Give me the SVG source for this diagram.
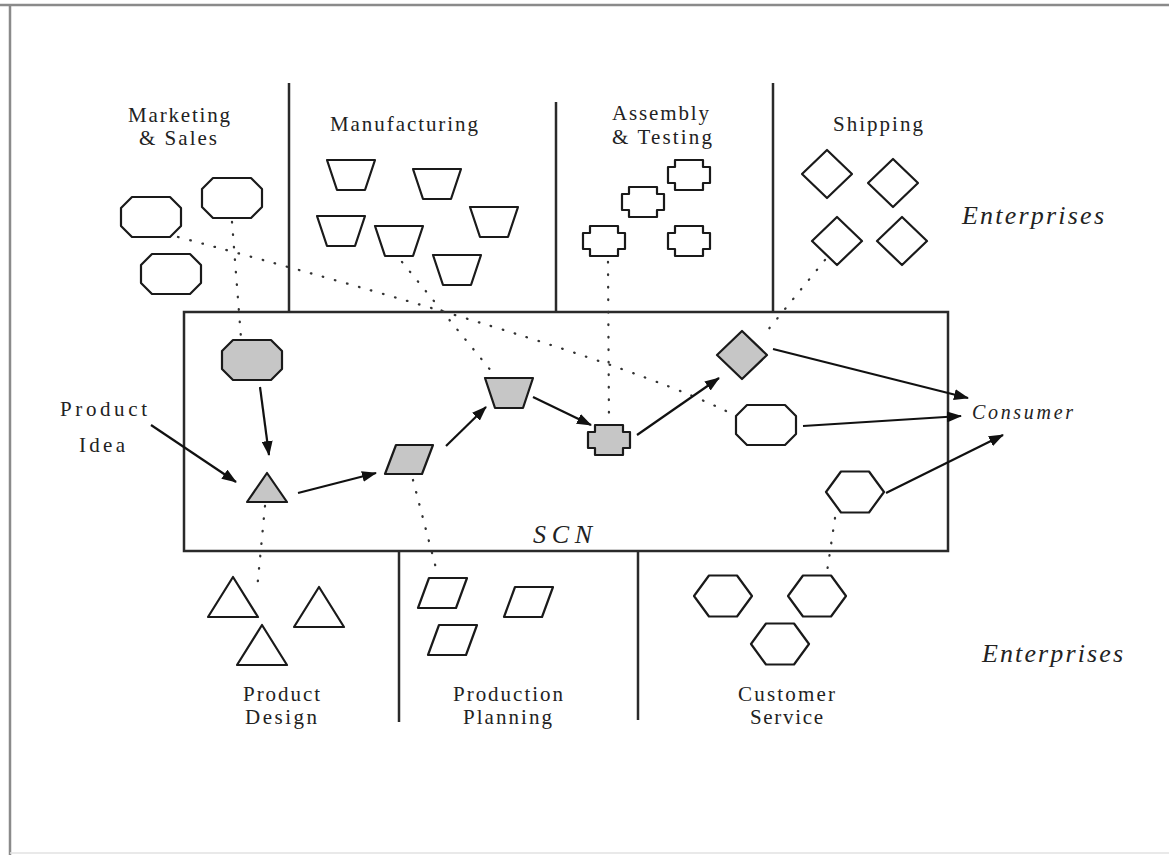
<svg xmlns="http://www.w3.org/2000/svg" width="1169" height="855" viewBox="0 0 1169 855">
<defs>
<style>
.sh{fill:#fff;stroke:#1a1a1a;stroke-width:2.2;stroke-linejoin:round}
.g{fill:#c6c6c6}
.div{stroke:#2a2a2a;stroke-width:2.5;fill:none}
.dot{stroke:#333;stroke-width:2.3;stroke-dasharray:0.5 12;stroke-linecap:round;fill:none}
.arr{stroke:#111;stroke-width:2.2;fill:none;marker-end:url(#ah)}
.t{font-family:"Liberation Serif","Times New Roman",serif;font-size:21px;fill:#222}
.it{font-family:"Liberation Serif","Times New Roman",serif;font-style:italic;fill:#222}
</style>
<marker id="ah" markerUnits="userSpaceOnUse" markerWidth="15" markerHeight="11" refX="14" refY="5.5" orient="auto">
<path d="M0,0 L15,5.5 L0,11 z" fill="#111"/>
</marker>
<polygon id="oct" points="-19,-20 19,-20 30,-9 30,9 19,20 -19,20 -30,9 -30,-9"/>
<polygon id="hex" points="-14,-20.5 14,-20.5 29,0 14,20.5 -14,20.5 -29,0"/>
<polygon id="dia" points="0,-24 25,0 0,24 -25,0"/>
<polygon id="crs" points="-14,-15 14,-15 14,-8 21,-8 21,8 14,8 14,15 -14,15 -14,8 -21,8 -21,-8 -14,-8"/>
<polygon id="trap" points="-24,-15 24,-15 14,15 -14,15"/>
<polygon id="tri" points="0,-20 25,20 -25,20"/>
<polygon id="par" points="-8,-15 30,-15 19,15 -19,15"/>
</defs>
<rect x="0" y="0" width="1169" height="855" fill="#fff"/>
<g id="frame">
<line x1="0" y1="5" x2="1169" y2="5" stroke="#8a8a8a" stroke-width="2.5"/>
<line x1="10" y1="5" x2="10" y2="855" stroke="#8a8a8a" stroke-width="2.5"/>
<line x1="10" y1="853" x2="1169" y2="853" stroke="#e2e2e2" stroke-width="1.5"/>
</g>
<g id="scn-box">
<rect x="184" y="312" width="764" height="239" fill="none" stroke="#2a2a2a" stroke-width="2.5"/>
<text class="it" x="533" y="543" font-size="26" textLength="59" lengthAdjust="spacing">SCN</text>
</g>
<g id="dividers">
<line class="div" x1="289" y1="83" x2="289" y2="312"/>
<line class="div" x1="556" y1="102" x2="556" y2="312"/>
<line class="div" x1="773" y1="83" x2="773" y2="312"/>
<line class="div" x1="399" y1="551" x2="399" y2="722"/>
<line class="div" x1="638" y1="551" x2="638" y2="720"/>
</g>
<g id="labels">
<text class="t" x="128" y="122" textLength="102" lengthAdjust="spacing">Marketing</text>
<text class="t" x="139" y="145" textLength="78" lengthAdjust="spacing">&amp; Sales</text>
<text class="t" x="330" y="131" textLength="148" lengthAdjust="spacing">Manufacturing</text>
<text class="t" x="612" y="120" textLength="97" lengthAdjust="spacing">Assembly</text>
<text class="t" x="612" y="144" textLength="100" lengthAdjust="spacing">&amp; Testing</text>
<text class="t" x="833" y="131" textLength="90" lengthAdjust="spacing">Shipping</text>
<text class="t" x="60" y="416" font-size="23" textLength="87" lengthAdjust="spacing">Product</text>
<text class="t" x="79" y="452" font-size="23" textLength="46" lengthAdjust="spacing">Idea</text>
<text class="t" x="243" y="701" textLength="77" lengthAdjust="spacing">Product</text>
<text class="t" x="245" y="724" textLength="72" lengthAdjust="spacing">Design</text>
<text class="t" x="453" y="701" textLength="110" lengthAdjust="spacing">Production</text>
<text class="t" x="463" y="724" textLength="89" lengthAdjust="spacing">Planning</text>
<text class="t" x="738" y="701" textLength="97" lengthAdjust="spacing">Customer</text>
<text class="t" x="750" y="724" textLength="73" lengthAdjust="spacing">Service</text>
<text class="it" x="962" y="224" font-size="26" textLength="142" lengthAdjust="spacing">Enterprises</text>
<text class="it" x="982" y="662" font-size="26" textLength="141" lengthAdjust="spacing">Enterprises</text>
<text class="it" x="972" y="419" font-size="20" textLength="101" lengthAdjust="spacing">Consumer</text>
</g>
<g id="connectors">
<line class="dot" x1="232" y1="222" x2="241" y2="338"/>
<path class="dot" d="M178,237 Q600,350 726,411"/>
<line class="dot" x1="402" y1="262" x2="492" y2="372"/>
<line class="dot" x1="608" y1="262" x2="609" y2="423"/>
<line class="dot" x1="825" y1="260" x2="763" y2="336"/>
<line class="dot" x1="265" y1="506" x2="257" y2="590"/>
<line class="dot" x1="413" y1="480" x2="437" y2="572"/>
<line class="dot" x1="835" y1="518" x2="827" y2="572"/>
<line class="arr" x1="260" y1="387" x2="269" y2="455"/>
<line class="arr" x1="151" y1="425" x2="236" y2="482"/>
<line class="arr" x1="298" y1="493" x2="376" y2="473"/>
<line class="arr" x1="446" y1="446" x2="486" y2="407"/>
<line class="arr" x1="533" y1="397" x2="591" y2="425"/>
<line class="arr" x1="637" y1="435" x2="719" y2="378"/>
<line class="arr" x1="773" y1="349" x2="968" y2="398"/>
<line class="arr" x1="803" y1="426" x2="961" y2="416"/>
<line class="arr" x1="886" y1="493" x2="1003" y2="435"/>
</g>
<g id="marketing">
<use href="#oct" class="sh" x="151" y="217"/>
<use href="#oct" class="sh" x="232" y="198"/>
<use href="#oct" class="sh" x="171" y="274"/>
</g>
<g id="manufacturing">
<use href="#trap" class="sh" x="351" y="175"/>
<use href="#trap" class="sh" x="437" y="184"/>
<use href="#trap" class="sh" x="341" y="231"/>
<use href="#trap" class="sh" x="399" y="241"/>
<use href="#trap" class="sh" x="494" y="222"/>
<use href="#trap" class="sh" x="457" y="270"/>
</g>
<g id="assembly">
<use href="#crs" class="sh" x="689" y="175"/>
<use href="#crs" class="sh" x="643" y="202"/>
<use href="#crs" class="sh" x="604" y="241"/>
<use href="#crs" class="sh" x="689" y="241"/>
</g>
<g id="shipping">
<use href="#dia" class="sh" x="827" y="174"/>
<use href="#dia" class="sh" x="893" y="183"/>
<use href="#dia" class="sh" x="837" y="241"/>
<use href="#dia" class="sh" x="902" y="241"/>
</g>
<g id="product-design">
<use href="#tri" class="sh" x="233" y="597"/>
<use href="#tri" class="sh" x="319" y="607"/>
<use href="#tri" class="sh" x="262" y="645"/>
</g>
<g id="production-planning">
<use href="#par" class="sh" x="437" y="593"/>
<use href="#par" class="sh" x="523" y="602"/>
<use href="#par" class="sh" x="447" y="640"/>
</g>
<g id="customer-service">
<use href="#hex" class="sh" x="723" y="596"/>
<use href="#hex" class="sh" x="817" y="596"/>
<use href="#hex" class="sh" x="780" y="644"/>
</g>
<g id="scn-nodes">
<use id="scn-octagon" href="#oct" class="sh g" x="252" y="360"/>
<polygon id="scn-triangle" class="sh g" points="267,473 287,502 247,502"/>
<polygon id="scn-parallelogram" class="sh g" points="396,445 433,445 422,474 385,474"/>
<use id="scn-trapezoid" href="#trap" class="sh g" x="509" y="393"/>
<use id="scn-cross" href="#crs" class="sh g" x="609" y="440"/>
<use id="scn-diamond" href="#dia" class="sh g" x="742" y="355"/>
<use id="scn-octagon-white" href="#oct" class="sh" x="766" y="425"/>
<use id="scn-hexagon" href="#hex" class="sh" x="855" y="492"/>
</g>
</svg>
